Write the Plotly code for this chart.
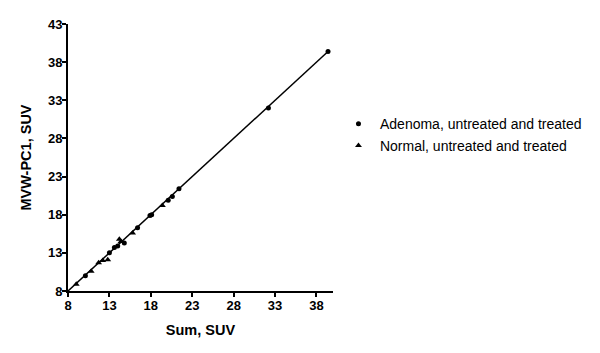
import plotly.graph_objects as go

# Data (Sum SUV vs MVW-PC1 SUV)
adenoma_x = [10.1, 13.0, 13.6, 14.0, 14.8, 16.4, 17.9, 18.1, 20.1, 20.6, 21.4, 32.2, 39.4]
adenoma_y = [10.0, 13.0, 13.7, 13.9, 14.3, 16.3, 17.9, 18.0, 19.9, 20.4, 21.4, 32.0, 39.4]
normal_x = [9.0, 10.8, 11.7, 12.2, 12.8, 14.2, 14.4, 15.8, 19.4]
normal_y = [8.9, 10.6, 11.7, 12.0, 12.1, 14.8, 14.5, 15.6, 19.2]

fit_x = [8.0, 39.4]
fit_slope = 1.0
fit_intercept = 0.0

tick_vals = [8, 13, 18, 23, 28, 33, 38, 43]

font_family = "Arial, Liberation Sans, sans-serif"

fig = go.Figure()
fig.add_trace(go.Scatter(
    x=fit_x, y=[fit_slope * v + fit_intercept for v in fit_x],
    mode="lines", line=dict(color="black", width=1.5), showlegend=False, hoverinfo="skip"))
fig.add_trace(go.Scatter(
    x=adenoma_x, y=adenoma_y, mode="markers", name="Adenoma, untreated and treated",
    marker=dict(symbol="circle", size=5, color="black"), legend="legend"))
fig.add_trace(go.Scatter(
    x=normal_x, y=normal_y, mode="markers", name="Normal, untreated and treated",
    marker=dict(symbol="triangle-up", size=6, color="black"), legend="legend2"))

axis_common = dict(
    showgrid=False, zeroline=False, showline=True, linecolor="black", linewidth=2,
    ticks="outside", ticklen=4, tickwidth=2, tickcolor="black", automargin=False,
    tickfont=dict(family=font_family, size=13, color="black", weight="bold"),
)

fig.update_layout(
    width=600, height=353,
    margin=dict(l=60, r=275, t=16, b=70),
    paper_bgcolor="white", plot_bgcolor="white",
    font=dict(family=font_family, color="black"),
    xaxis=dict(range=[8, 40], tickvals=tick_vals[:-1], ticklabelstandoff=-3, **axis_common,
               title=dict(text="Sum, SUV", font=dict(size=14.5, weight="bold"), standoff=13)),
    yaxis=dict(range=[8, 43], tickvals=tick_vals, ticklabelstandoff=-3, **axis_common,
               title=dict(text="MVW-PC1, SUV", font=dict(size=14.5, weight="bold"), standoff=13)),
    legend=dict(x=1.015, y=0.625, xanchor="left", yanchor="middle", itemwidth=33,
                font=dict(size=14, family=font_family), bgcolor="rgba(0,0,0,0)"),
    legend2=dict(x=1.015, y=0.543, xanchor="left", yanchor="middle", itemwidth=33,
                 font=dict(size=14, family=font_family), bgcolor="rgba(0,0,0,0)"),
    showlegend=True,
)

fig.write_html("out.html")
